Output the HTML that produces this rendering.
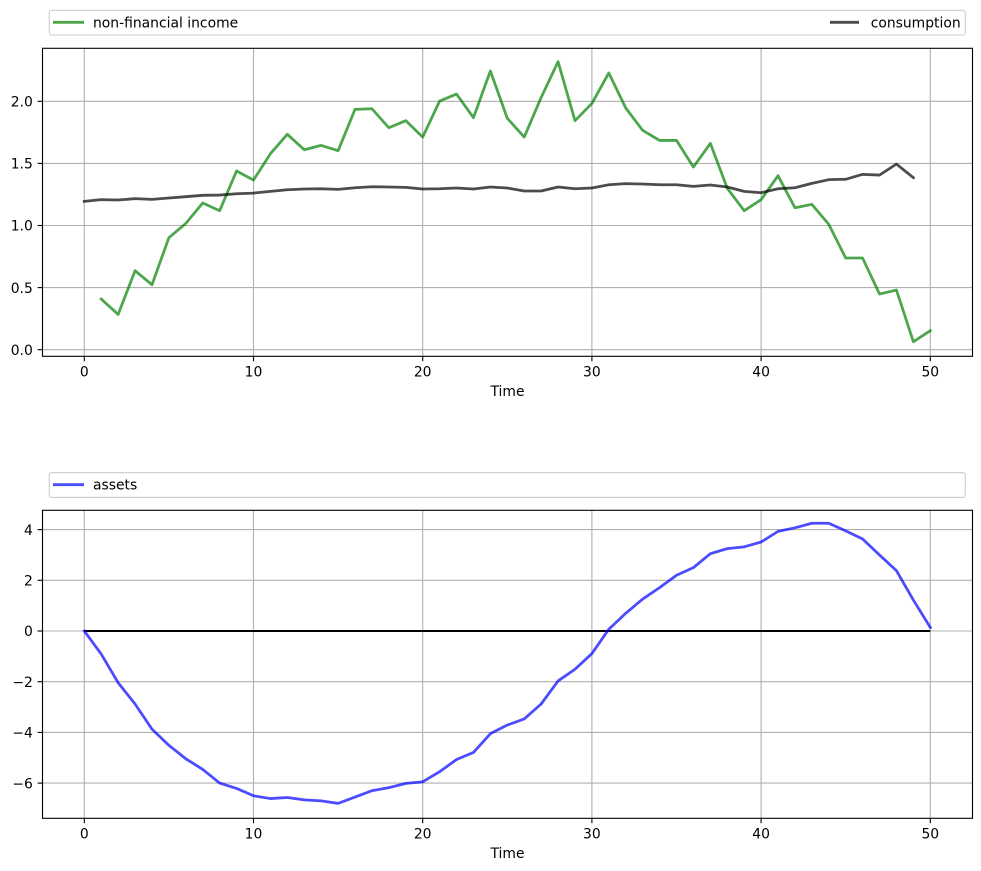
<!DOCTYPE html>
<html>
<head>
<meta charset="utf-8">
<style>
html,body{margin:0;padding:0;background:#fff;}
svg{display:block;}
text{font-family:"DejaVu Sans","Liberation Sans",sans-serif;font-size:13.9px;fill:#000;}
</style>
</head>
<body>
<svg width="981" height="871" viewBox="0 0 981 871" xmlns="http://www.w3.org/2000/svg">
<rect x="0" y="0" width="981" height="871" fill="#fff"/>

<!-- ===== TOP AXES ===== -->
<g stroke="#b0b0b0" stroke-width="1.1" fill="none">
  <line x1="84.3" y1="48.3" x2="84.3" y2="356.3"/>
  <line x1="253.5" y1="48.3" x2="253.5" y2="356.3"/>
  <line x1="422.7" y1="48.3" x2="422.7" y2="356.3"/>
  <line x1="591.9" y1="48.3" x2="591.9" y2="356.3"/>
  <line x1="761.1" y1="48.3" x2="761.1" y2="356.3"/>
  <line x1="930.3" y1="48.3" x2="930.3" y2="356.3"/>
  <line x1="42.5" y1="349.7" x2="972.5" y2="349.7"/>
  <line x1="42.5" y1="287.6" x2="972.5" y2="287.6"/>
  <line x1="42.5" y1="225.5" x2="972.5" y2="225.5"/>
  <line x1="42.5" y1="163.4" x2="972.5" y2="163.4"/>
  <line x1="42.5" y1="101.3" x2="972.5" y2="101.3"/>
</g>

<g transform="translate(84.3,349.7) scale(16.92,-124.2)" fill="none" stroke-linejoin="round" stroke-linecap="square">
  <polyline vector-effect="non-scaling-stroke" stroke="#008000" stroke-opacity="0.7" stroke-width="2.78"
   points="1,0.408 2,0.284 3,0.636 4,0.523 5,0.902 6,1.017 7,1.181 8,1.119 9,1.439 10,1.366 11,1.578 12,1.734 13,1.610 14,1.645 15,1.602 16,1.935 17,1.940 18,1.787 19,1.844 20,1.712 21,2.002 22,2.058 23,1.868 24,2.244 25,1.863 26,1.712 27,2.03 28,2.319 29,1.844 30,1.983 31,2.228 32,1.946 33,1.766 34,1.685 35,1.685 36,1.471 37,1.661 38,1.30 39,1.119 40,1.208 41,1.401 42,1.143 43,1.170 44,1.009 45,0.738 46,0.738 47,0.448 48,0.480 49,0.064 50,0.153"/>
  <polyline vector-effect="non-scaling-stroke" stroke="#000000" stroke-opacity="0.7" stroke-width="2.78"
   points="0,1.194 1,1.208 2,1.205 3,1.216 4,1.210 5,1.221 6,1.232 7,1.243 8,1.245 9,1.256 10,1.261 11,1.275 12,1.288 13,1.294 14,1.296 15,1.291 16,1.304 17,1.312 18,1.310 19,1.307 20,1.294 21,1.296 22,1.302 23,1.294 24,1.310 25,1.302 26,1.278 27,1.278 28,1.310 29,1.296 30,1.302 31,1.328 32,1.337 33,1.334 34,1.328 35,1.328 36,1.315 37,1.326 38,1.310 39,1.275 40,1.264 41,1.296 42,1.304 43,1.339 44,1.369 45,1.372 46,1.412 47,1.406 48,1.495 49,1.385"/>
</g>

<rect x="42.5" y="48.3" width="930" height="308" fill="none" stroke="#000" stroke-width="1.1"/>

<g stroke="#000" stroke-width="1.1">
  <line x1="37.6" y1="349.7" x2="42.5" y2="349.7"/>
  <line x1="37.6" y1="287.6" x2="42.5" y2="287.6"/>
  <line x1="37.6" y1="225.5" x2="42.5" y2="225.5"/>
  <line x1="37.6" y1="163.4" x2="42.5" y2="163.4"/>
  <line x1="37.6" y1="101.3" x2="42.5" y2="101.3"/>
  <line x1="84.3" y1="356.3" x2="84.3" y2="361.2"/>
  <line x1="253.5" y1="356.3" x2="253.5" y2="361.2"/>
  <line x1="422.7" y1="356.3" x2="422.7" y2="361.2"/>
  <line x1="591.9" y1="356.3" x2="591.9" y2="361.2"/>
  <line x1="761.1" y1="356.3" x2="761.1" y2="361.2"/>
  <line x1="930.3" y1="356.3" x2="930.3" y2="361.2"/>
</g>
<g text-anchor="end">
  <text x="32.8" y="354.9">0.0</text>
  <text x="32.8" y="292.8">0.5</text>
  <text x="32.8" y="230.7">1.0</text>
  <text x="32.8" y="168.6">1.5</text>
  <text x="32.8" y="106.5">2.0</text>
</g>
<g text-anchor="middle">
  <text x="84.3" y="376.7">0</text>
  <text x="253.5" y="376.7">10</text>
  <text x="422.7" y="376.7">20</text>
  <text x="591.9" y="376.7">30</text>
  <text x="761.1" y="376.7">40</text>
  <text x="930.3" y="376.7">50</text>
  <text x="507.5" y="396">Time</text>
</g>

<!-- top legend -->
<rect x="49.3" y="10.3" width="916" height="24.7" rx="2.5" ry="2.5" fill="#fff" fill-opacity="0.8" stroke="#cccccc" stroke-width="1.1"/>
<line x1="53" y1="22.3" x2="84" y2="22.3" stroke="#008000" stroke-opacity="0.7" stroke-width="2.78"/>
<text x="93" y="27.3">non-financial income</text>
<line x1="830" y1="22.3" x2="859" y2="22.3" stroke="#000" stroke-opacity="0.7" stroke-width="2.78"/>
<text x="870.7" y="27.3">consumption</text>

<!-- ===== BOTTOM AXES ===== -->
<g stroke="#b0b0b0" stroke-width="1.1" fill="none">
  <line x1="84.3" y1="510.3" x2="84.3" y2="818.3"/>
  <line x1="253.5" y1="510.3" x2="253.5" y2="818.3"/>
  <line x1="422.7" y1="510.3" x2="422.7" y2="818.3"/>
  <line x1="591.9" y1="510.3" x2="591.9" y2="818.3"/>
  <line x1="761.1" y1="510.3" x2="761.1" y2="818.3"/>
  <line x1="930.3" y1="510.3" x2="930.3" y2="818.3"/>
  <line x1="42.5" y1="529.6" x2="972.5" y2="529.6"/>
  <line x1="42.5" y1="580.3" x2="972.5" y2="580.3"/>
  <line x1="42.5" y1="631" x2="972.5" y2="631"/>
  <line x1="42.5" y1="681.7" x2="972.5" y2="681.7"/>
  <line x1="42.5" y1="732.4" x2="972.5" y2="732.4"/>
  <line x1="42.5" y1="783.1" x2="972.5" y2="783.1"/>
</g>

<line x1="84.3" y1="631" x2="930.3" y2="631" stroke="#000" stroke-width="2"/>

<g transform="translate(84.3,631) scale(16.92,-25.35)" fill="none" stroke-linejoin="round" stroke-linecap="square">
  <polyline vector-effect="non-scaling-stroke" stroke="#0000ff" stroke-opacity="0.7" stroke-width="2.78"
   points="0,0 1,-0.91 2,-2.04 3,-2.88 4,-3.87 5,-4.51 6,-5.04 7,-5.46 8,-6.0 9,-6.21 10,-6.50 11,-6.61 12,-6.57 13,-6.66 14,-6.70 15,-6.80 16,-6.55 17,-6.30 18,-6.18 19,-6.01 20,-5.95 21,-5.55 22,-5.07 23,-4.79 24,-4.05 25,-3.71 26,-3.47 27,-2.88 28,-1.97 29,-1.51 30,-0.89 31,0.07 32,0.70 33,1.26 34,1.71 35,2.20 36,2.50 37,3.05 38,3.25 39,3.32 40,3.51 41,3.93 42,4.07 43,4.25 44,4.25 45,3.95 46,3.63 47,3.0 48,2.38 49,1.22 50,0.14"/>
</g>

<rect x="42.5" y="510.3" width="930" height="308" fill="none" stroke="#000" stroke-width="1.1"/>

<g stroke="#000" stroke-width="1.1">
  <line x1="37.6" y1="529.6" x2="42.5" y2="529.6"/>
  <line x1="37.6" y1="580.3" x2="42.5" y2="580.3"/>
  <line x1="37.6" y1="631" x2="42.5" y2="631"/>
  <line x1="37.6" y1="681.7" x2="42.5" y2="681.7"/>
  <line x1="37.6" y1="732.4" x2="42.5" y2="732.4"/>
  <line x1="37.6" y1="783.1" x2="42.5" y2="783.1"/>
  <line x1="84.3" y1="818.3" x2="84.3" y2="823.2"/>
  <line x1="253.5" y1="818.3" x2="253.5" y2="823.2"/>
  <line x1="422.7" y1="818.3" x2="422.7" y2="823.2"/>
  <line x1="591.9" y1="818.3" x2="591.9" y2="823.2"/>
  <line x1="761.1" y1="818.3" x2="761.1" y2="823.2"/>
  <line x1="930.3" y1="818.3" x2="930.3" y2="823.2"/>
</g>
<g text-anchor="end">
  <text x="32.8" y="534.8">4</text>
  <text x="32.8" y="585.5">2</text>
  <text x="32.8" y="636.2">0</text>
  <text x="32.8" y="686.9">−2</text>
  <text x="32.8" y="737.6">−4</text>
  <text x="32.8" y="788.3">−6</text>
</g>
<g text-anchor="middle">
  <text x="84.3" y="838.7">0</text>
  <text x="253.5" y="838.7">10</text>
  <text x="422.7" y="838.7">20</text>
  <text x="591.9" y="838.7">30</text>
  <text x="761.1" y="838.7">40</text>
  <text x="930.3" y="838.7">50</text>
  <text x="507.5" y="858">Time</text>
</g>

<!-- bottom legend -->
<rect x="49.3" y="472.7" width="916" height="24.7" rx="2.5" ry="2.5" fill="#fff" fill-opacity="0.8" stroke="#cccccc" stroke-width="1.1"/>
<line x1="53" y1="484.7" x2="84" y2="484.7" stroke="#0000ff" stroke-opacity="0.7" stroke-width="2.78"/>
<text x="93" y="489.7">assets</text>

</svg>
</body>
</html>
